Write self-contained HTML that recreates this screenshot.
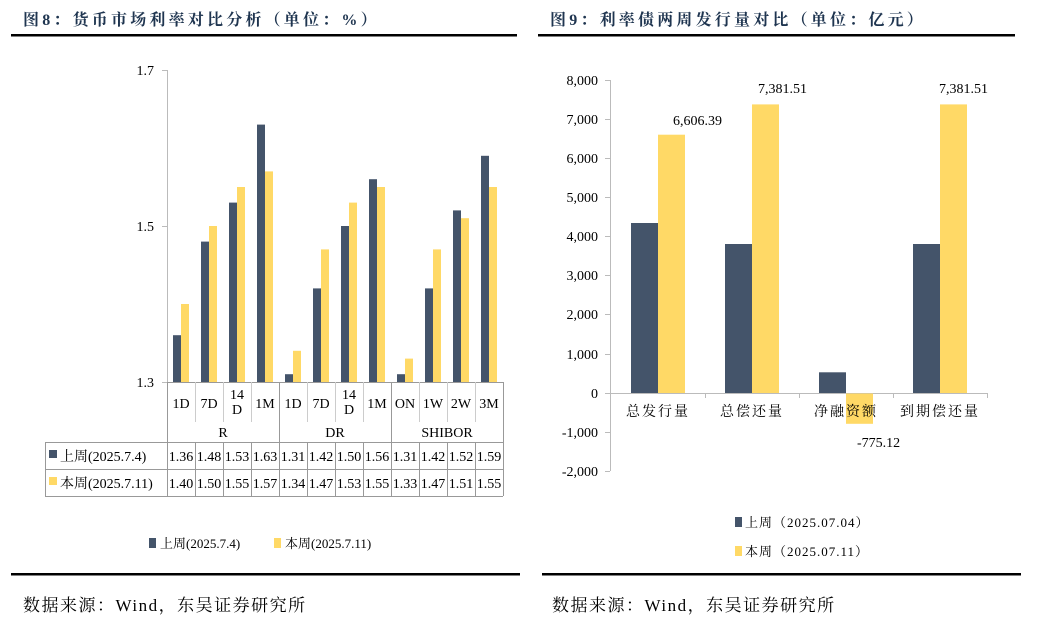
<!DOCTYPE html>
<html><head><meta charset="utf-8"><style>
html,body{margin:0;padding:0;background:#fff;}
svg{display:block;}
.t{font-family:"Liberation Serif","Noto Serif CJK SC",serif;fill:#000;}
.h{font-family:"Liberation Serif","Noto Serif CJK SC",serif;font-weight:bold;fill:#1f3550;font-size:16px;letter-spacing:3.2px;}
.s{letter-spacing:1.5px;}
</style></head><body>
<svg width="1038" height="635" viewBox="0 0 1038 635" xmlns="http://www.w3.org/2000/svg">
<text class="h" x="23" y="25">图8：货币市场利率对比分析（单位：%）</text>
<text class="h" x="550" y="25">图9：利率债两周发行量对比（单位：亿元）</text>
<rect x="11" y="34" width="506" height="2.5" fill="#000"/>
<rect x="538" y="34" width="477" height="2.5" fill="#000"/>
<rect x="11" y="573" width="509" height="2.5" fill="#000"/>
<rect x="542" y="573" width="479" height="2.5" fill="#000"/>
<text class="t s" x="23" y="611" font-size="17">数据来源：Wind，东吴证券研究所</text>
<text class="t s" x="552" y="611" font-size="17">数据来源：Wind，东吴证券研究所</text>

<g class="t" font-size="14" text-anchor="end">
<text x="154" y="75">1.7</text><text x="154" y="231">1.5</text><text x="154" y="387">1.3</text>
</g>
<line x1="167.5" y1="70" x2="167.5" y2="382" stroke="#bbb"/>
<line x1="162" y1="70.5" x2="167" y2="70.5" stroke="#bbb"/>
<line x1="162" y1="226.5" x2="167" y2="226.5" stroke="#bbb"/>
<line x1="162" y1="382.5" x2="167" y2="382.5" stroke="#bbb"/>
<g fill="#44546a">
<rect x="173" y="335.2" width="8" height="46.8"/>
<rect x="201" y="241.6" width="8" height="140.4"/>
<rect x="229" y="202.6" width="8" height="179.4"/>
<rect x="257" y="124.6" width="8" height="257.4"/>
<rect x="285" y="374.2" width="8" height="7.8"/>
<rect x="313" y="288.4" width="8" height="93.6"/>
<rect x="341" y="226" width="8" height="156"/>
<rect x="369" y="179.2" width="8" height="202.8"/>
<rect x="397" y="374.2" width="8" height="7.8"/>
<rect x="425" y="288.4" width="8" height="93.6"/>
<rect x="453" y="210.4" width="8" height="171.6"/>
<rect x="481" y="155.8" width="8" height="226.2"/>
</g>
<g fill="#ffd966">
<rect x="181" y="304" width="8" height="78"/>
<rect x="209" y="226" width="8" height="156"/>
<rect x="237" y="187" width="8" height="195"/>
<rect x="265" y="171.4" width="8" height="210.6"/>
<rect x="293" y="350.8" width="8" height="31.2"/>
<rect x="321" y="249.4" width="8" height="132.6"/>
<rect x="349" y="202.6" width="8" height="179.4"/>
<rect x="377" y="187" width="8" height="195"/>
<rect x="405" y="358.6" width="8" height="23.4"/>
<rect x="433" y="249.4" width="8" height="132.6"/>
<rect x="461" y="218.2" width="8" height="163.8"/>
<rect x="489" y="187" width="8" height="195"/>
</g>
<g stroke="#999" stroke-width="1" fill="none">
<line x1="167" y1="382.5" x2="503" y2="382.5"/>
<line x1="167.5" y1="382" x2="167.5" y2="496"/>
<line x1="503.5" y1="382" x2="503.5" y2="496"/>
<line x1="279.5" y1="382" x2="279.5" y2="442"/>
<line x1="391.5" y1="382" x2="391.5" y2="442"/>
<g stroke="#ccc">
<line x1="195.5" y1="382" x2="195.5" y2="422"/><line x1="223.5" y1="382" x2="223.5" y2="422"/><line x1="251.5" y1="382" x2="251.5" y2="422"/>
<line x1="307.5" y1="382" x2="307.5" y2="422"/><line x1="335.5" y1="382" x2="335.5" y2="422"/><line x1="363.5" y1="382" x2="363.5" y2="422"/>
<line x1="419.5" y1="382" x2="419.5" y2="422"/><line x1="447.5" y1="382" x2="447.5" y2="422"/><line x1="475.5" y1="382" x2="475.5" y2="422"/>
</g>
<line x1="45" y1="442.5" x2="503" y2="442.5"/>
<line x1="45" y1="469.5" x2="503" y2="469.5"/>
<line x1="45" y1="496.5" x2="503" y2="496.5"/>
<line x1="45.5" y1="442" x2="45.5" y2="496"/>
<line x1="195.5" y1="442" x2="195.5" y2="496"/><line x1="223.5" y1="442" x2="223.5" y2="496"/><line x1="251.5" y1="442" x2="251.5" y2="496"/><line x1="279.5" y1="442" x2="279.5" y2="496"/>
<line x1="307.5" y1="442" x2="307.5" y2="496"/><line x1="335.5" y1="442" x2="335.5" y2="496"/><line x1="363.5" y1="442" x2="363.5" y2="496"/><line x1="391.5" y1="442" x2="391.5" y2="496"/>
<line x1="419.5" y1="442" x2="419.5" y2="496"/><line x1="447.5" y1="442" x2="447.5" y2="496"/><line x1="475.5" y1="442" x2="475.5" y2="496"/>
</g>
<g class="t" font-size="14" text-anchor="middle">
<text x="181" y="408">1D</text><text x="209" y="408">7D</text><text x="237" y="399">14</text><text x="237" y="414">D</text><text x="265" y="408">1M</text>
<text x="293" y="408">1D</text><text x="321" y="408">7D</text><text x="349" y="399">14</text><text x="349" y="414">D</text><text x="377" y="408">1M</text>
<text x="405" y="408">ON</text><text x="433" y="408">1W</text><text x="461" y="408">2W</text><text x="489" y="408">3M</text>
<text x="223" y="437">R</text><text x="335" y="437">DR</text><text x="447" y="437">SHIBOR</text>
</g>
<rect x="49" y="450" width="8" height="8" fill="#44546a"/>
<rect x="49" y="477" width="8" height="8" fill="#ffd966"/>
<g class="t" font-size="14">
<text x="60" y="461">上周(2025.7.4)</text>
<text x="60" y="488">本周(2025.7.11)</text>
</g>
<g class="t" font-size="14" text-anchor="middle" textLength="26">
<text x="181" y="461">1.36</text><text x="209" y="461">1.48</text><text x="237" y="461">1.53</text><text x="265" y="461">1.63</text><text x="293" y="461">1.31</text><text x="321" y="461">1.42</text><text x="349" y="461">1.50</text><text x="377" y="461">1.56</text><text x="405" y="461">1.31</text><text x="433" y="461">1.42</text><text x="461" y="461">1.52</text><text x="489" y="461">1.59</text>
<text x="181" y="488">1.40</text><text x="209" y="488">1.50</text><text x="237" y="488">1.55</text><text x="265" y="488">1.57</text><text x="293" y="488">1.34</text><text x="321" y="488">1.47</text><text x="349" y="488">1.53</text><text x="377" y="488">1.55</text><text x="405" y="488">1.33</text><text x="433" y="488">1.47</text><text x="461" y="488">1.51</text><text x="489" y="488">1.55</text>
</g>
<rect x="149" y="538" width="7" height="10" fill="#44546a"/>
<rect x="274" y="538" width="7" height="10" fill="#ffd966"/>
<g class="t" font-size="13" fill="#333">
<text x="160" y="548">上周(2025.7.4)</text>
<text x="285" y="548">本周(2025.7.11)</text>
</g>

<line x1="610.5" y1="80" x2="610.5" y2="471" stroke="#bbb"/>
<g stroke="#bbb">
<line x1="605" y1="80.5" x2="610" y2="80.5"/><line x1="605" y1="119.5" x2="610" y2="119.5"/><line x1="605" y1="158.5" x2="610" y2="158.5"/><line x1="605" y1="197.5" x2="610" y2="197.5"/><line x1="605" y1="236.5" x2="610" y2="236.5"/><line x1="605" y1="275.5" x2="610" y2="275.5"/><line x1="605" y1="314.5" x2="610" y2="314.5"/><line x1="605" y1="354.5" x2="610" y2="354.5"/><line x1="605" y1="432.5" x2="610" y2="432.5"/><line x1="605" y1="471.5" x2="610" y2="471.5"/>
<line x1="605" y1="393.5" x2="988" y2="393.5"/>
<line x1="705.5" y1="393" x2="705.5" y2="398"/><line x1="799.5" y1="393" x2="799.5" y2="398"/><line x1="893.5" y1="393" x2="893.5" y2="398"/><line x1="987.5" y1="393" x2="987.5" y2="398"/>
</g>
<g class="t" font-size="14" text-anchor="end">
<text x="598" y="85">8,000</text><text x="598" y="124">7,000</text><text x="598" y="163">6,000</text><text x="598" y="202">5,000</text><text x="598" y="241">4,000</text><text x="598" y="280">3,000</text><text x="598" y="319">2,000</text><text x="598" y="359">1,000</text><text x="598" y="398">0</text><text x="598" y="437">-1,000</text><text x="598" y="476">-2,000</text>
</g>
<g fill="#44546a">
<rect x="631" y="223" width="27" height="170"/>
<rect x="725" y="244" width="27" height="149"/>
<rect x="819" y="372.3" width="27" height="20.7"/>
<rect x="913" y="244" width="27" height="149"/>
</g>
<g fill="#ffd966">
<rect x="658" y="134.7" width="27" height="258.3"/>
<rect x="752" y="104.4" width="27" height="288.6"/>
<rect x="846" y="393.5" width="27" height="30.3"/>
<rect x="940" y="104.4" width="27" height="288.6"/>
</g>
<g class="t" font-size="14">
<text x="673" y="125">6,606.39</text>
<text x="758" y="93">7,381.51</text>
<text x="857" y="447">-775.12</text>
<text x="939" y="93">7,381.51</text>
</g>
<g class="t" font-size="14" text-anchor="middle" fill="#333" letter-spacing="2">
<text x="658" y="416">总发行量</text><text x="752" y="416">总偿还量</text><text x="846" y="416">净融资额</text><text x="940" y="416">到期偿还量</text>
</g>
<rect x="735" y="517" width="7" height="10" fill="#44546a"/>
<rect x="735" y="546" width="7" height="10" fill="#ffd966"/>
<g class="t" font-size="13" fill="#333" letter-spacing="1">
<text x="745" y="527">上周（2025.07.04）</text>
<text x="745" y="556">本周（2025.07.11）</text>
</g>
</svg>
</body></html>
